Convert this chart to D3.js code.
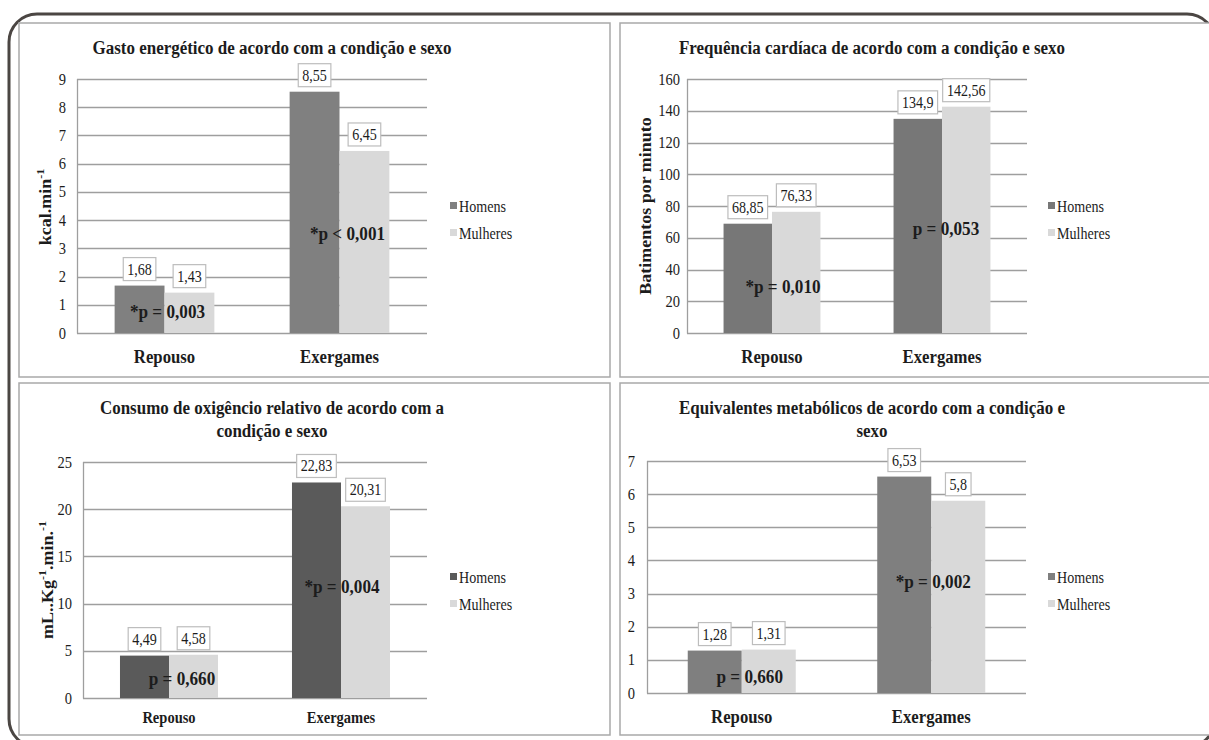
<!DOCTYPE html>
<html>
<head>
<meta charset="utf-8">
<script src="https://cdn.jsdelivr.net/npm/d3@7"></script>
<style>
  body { margin: 0; background: #fff; }
  svg { display: block; }
  text { font-family: "Liberation Serif", "Times New Roman", serif; fill: #1c1c1c; }
</style>
</head>
<body>
<svg id="chart" width="1209" height="740"></svg>
<script>
// categorias e séries
var categories = ['Repouso', 'Exergames'];
var series = ['Homens', 'Mulheres'];

// gasto energético (kcal.min-1)
var gastoHomens = [1.68, 8.55];
var gastoMulheres = [1.43, 6.45];
var gastoTicks = [0, 1, 2, 3, 4, 5, 6, 7, 8, 9];
var gastoP = ['*p = 0,003', '*p < 0,001'];

// frequência cardíaca (bpm)
var fcHomens = [68.85, 134.9];
var fcMulheres = [76.33, 142.56];
var fcTicks = [0, 20, 40, 60, 80, 100, 120, 140, 160];
var fcP = ['*p = 0,010', 'p = 0,053'];

// consumo de oxigênio relativo
var vo2Homens = [4.49, 22.83];
var vo2Mulheres = [4.58, 20.31];
var vo2Ticks = [0, 5, 10, 15, 20, 25];
var vo2P = ['p = 0,660', '*p = 0,004'];

// equivalentes metabólicos
var metsHomens = [1.28, 6.53];
var metsMulheres = [1.31, 5.8];
var metsTicks = [0, 1, 2, 3, 4, 5, 6, 7];
var metsP = ['p = 0,660', '*p = 0,002'];

var mulheresColor = '#d9d9d9';
var gridColor = '#9e9e9e';
var K = 0.88; // a figura original está comprimida na horizontal

var panels = [
  { box: [19, 23, 591, 354], x0: 77, x1: 427, yTop: 79, yBot: 333, homColor: '#808080',
    title: ['Gasto energético de acordo com a condição e sexo'], titleX: 272, titleY: 54,
    yTitle: [['kcal.min', false], ['-1', true]], yTitleX: 45, yTitleY: 207,
    legendX: 450, legendY: 206, catY: 363, catSize: 19, tickGap: 11,
    pDx: [3, 8], pY: [0.53, 3.3],
    homens: gastoHomens, mulheres: gastoMulheres, ticks: gastoTicks, p: gastoP },
  { box: [620, 23, 600, 354], x0: 687, x1: 1027, yTop: 79, yBot: 333, homColor: '#777777',
    title: ['Frequência cardíaca de acordo com a condição e sexo'], titleX: 872, titleY: 54,
    yTitle: [['Batimentos por minuto', false]], yTitleX: 645, yTitleY: 206,
    legendX: 1048, legendY: 206, catY: 363, catSize: 19, tickGap: 7,
    pDx: [11, 4], pY: [25, 61.7],
    homens: fcHomens, mulheres: fcMulheres, ticks: fcTicks, p: fcP },
  { box: [19, 383, 591, 352], x0: 83, x1: 427, yTop: 462, yBot: 698, homColor: '#5a5a5a',
    title: ['Consumo de oxigêncio relativo de acordo com a', 'condição e sexo'], titleX: 272, titleY: 414,
    yTitle: [['mL..Kg', false], ['-1', true], ['.min.', false], ['-1', true]], yTitleX: 47, yTitleY: 580,
    legendX: 450, legendY: 577, catY: 723, catSize: 16.5, tickGap: 11,
    pDx: [13, 1], pY: [1.38, 11.1],
    homens: vo2Homens, mulheres: vo2Mulheres, ticks: vo2Ticks, p: vo2P },
  { box: [620, 383, 600, 352], x0: 647, x1: 1026, yTop: 461, yBot: 693, homColor: '#7f7f7f',
    title: ['Equivalentes metabólicos de acordo com a condição e', 'sexo'], titleX: 872, titleY: 414,
    yTitle: null,
    legendX: 1048, legendY: 577, catY: 723, catSize: 19, tickGap: 12,
    pDx: [8, 2], pY: [0.3, 3.17],
    homens: metsHomens, mulheres: metsMulheres, ticks: metsTicks, p: metsP }
];

var svg = d3.select('#chart');

// moldura externa arredondada
svg.append('rect')
  .attr('x', 9).attr('y', 14).attr('width', 1206).attr('height', 733)
  .attr('rx', 28).attr('ry', 28)
  .attr('fill', 'none').attr('stroke', '#4b4643').attr('stroke-width', 3);

var fmt = function(v) { return String(v).replace('.', ','); };
var at = function(px, py) { return 'translate(' + px + ',' + py + ') scale(' + K + ',1)'; };

panels.forEach(function(cfg) {
  var g = svg.append('g');

  g.append('rect')
    .attr('x', cfg.box[0]).attr('y', cfg.box[1])
    .attr('width', cfg.box[2]).attr('height', cfg.box[3])
    .attr('fill', '#fff').attr('stroke', '#a9a9a9').attr('stroke-width', 1.5);

  var yMax = cfg.ticks[cfg.ticks.length - 1];
  var y = d3.scaleLinear().domain([0, yMax]).range([cfg.yBot, cfg.yTop]);
  var x = d3.scaleBand().domain(categories).range([cfg.x0, cfg.x1])
    .paddingInner(0.43).paddingOuter(0.215);
  var xs = d3.scaleBand().domain(series).range([0, x.bandwidth()]);
  var colors = d3.scaleOrdinal().domain(series).range([cfg.homColor, mulheresColor]);

  // título
  g.selectAll('.title').data(cfg.title).enter().append('text')
    .attr('transform', function(d, i) { return at(cfg.titleX, cfg.titleY + i * 23); })
    .attr('text-anchor', 'middle').attr('font-weight', 'bold').attr('font-size', 19.3)
    .text(function(d) { return d; });

  // linhas de grade
  g.selectAll('.grid').data(cfg.ticks).enter().append('line')
    .attr('x1', cfg.x0).attr('x2', cfg.x1)
    .attr('y1', function(d) { return Math.round(y(d)) + 0.5; })
    .attr('y2', function(d) { return Math.round(y(d)) + 0.5; })
    .attr('stroke', gridColor).attr('stroke-width', 1.3);
  g.append('line')
    .attr('x1', cfg.x0 + 0.5).attr('x2', cfg.x0 + 0.5)
    .attr('y1', cfg.yTop).attr('y2', cfg.yBot + 0.5)
    .attr('stroke', gridColor).attr('stroke-width', 1.3);

  // rótulos do eixo y
  g.selectAll('.tick').data(cfg.ticks).enter().append('text')
    .attr('transform', function(d) { return at(cfg.x0 - cfg.tickGap, y(d) + 5.5); })
    .attr('text-anchor', 'end').attr('font-size', 16.5)
    .text(function(d) { return d; });

  // título do eixo y
  if (cfg.yTitle) {
    var yt = g.append('text')
      .attr('transform', 'translate(' + cfg.yTitleX + ',' + cfg.yTitleY + ') rotate(-90) scale(1,' + K + ')')
      .attr('text-anchor', 'middle').attr('font-weight', 'bold').attr('font-size', 18)
      .attr('dy', '0.35em');
    var up = false;
    cfg.yTitle.forEach(function(part) {
      var ts = yt.append('tspan').text(part[0]);
      if (part[1] && !up) { ts.attr('dy', -7).attr('font-size', 12); up = true; }
      else if (!part[1] && up) { ts.attr('dy', 7); up = false; }
      else if (part[1]) { ts.attr('font-size', 12); }
    });
  }

  // barras
  var rows = categories.map(function(c, i) {
    return { cat: c, vals: [
      { s: series[0], v: cfg.homens[i] },
      { s: series[1], v: cfg.mulheres[i] }
    ] };
  });

  var grp = g.selectAll('.grp').data(rows).enter().append('g')
    .attr('transform', function(d) { return 'translate(' + x(d.cat) + ',0)'; });

  grp.selectAll('rect').data(function(d) { return d.vals; }).enter().append('rect')
    .attr('x', function(d) { return xs(d.s); })
    .attr('width', xs.bandwidth())
    .attr('y', function(d) { return y(d.v); })
    .attr('height', function(d) { return cfg.yBot - y(d.v); })
    .attr('fill', function(d) { return colors(d.s); });

  // rótulos de dados em caixas
  grp.selectAll('.lbl').data(function(d) { return d.vals; }).enter().append('g')
    .each(function(d) {
      var s = d3.select(this);
      var cx = xs(d.s) + xs.bandwidth() / 2;
      var by = y(d.v) - 5;
      var t = s.append('text').attr('transform', at(cx, by - 6))
        .attr('text-anchor', 'middle').attr('font-size', 16).text(fmt(d.v));
      var w = t.node().getBBox().width * K;
      s.insert('rect', 'text')
        .attr('x', cx - w / 2 - 4).attr('y', by - 23)
        .attr('width', w + 8).attr('height', 23)
        .attr('fill', '#fff').attr('stroke', '#bdbdbd').attr('stroke-width', 1.2);
    });

  // rótulos das categorias
  g.selectAll('.cat').data(categories).enter().append('text')
    .attr('transform', function(d) { return at(x(d) + x.bandwidth() / 2, cfg.catY); })
    .attr('text-anchor', 'middle').attr('font-weight', 'bold').attr('font-size', cfg.catSize)
    .text(function(d) { return d; });

  // valores de p
  g.selectAll('.pval').data(cfg.p).enter().append('text')
    .attr('transform', function(d, i) {
      return at(x(categories[i]) + x.bandwidth() / 2 + cfg.pDx[i], y(cfg.pY[i]));
    })
    .attr('text-anchor', 'middle').attr('font-weight', 'bold').attr('font-size', 19.5)
    .attr('fill', '#111')
    .text(function(d) { return d; });

  // legenda
  var leg = g.selectAll('.leg').data(series).enter().append('g')
    .attr('transform', function(d, i) { return 'translate(' + cfg.legendX + ',' + (cfg.legendY + i * 27) + ')'; });
  leg.append('rect').attr('x', 0).attr('y', -4).attr('width', 7).attr('height', 7)
    .attr('fill', function(d) { return colors(d); });
  leg.append('text').attr('transform', at(9, 5.5)).attr('font-size', 16)
    .text(function(d) { return d; });
});
</script>
</body>
</html>
